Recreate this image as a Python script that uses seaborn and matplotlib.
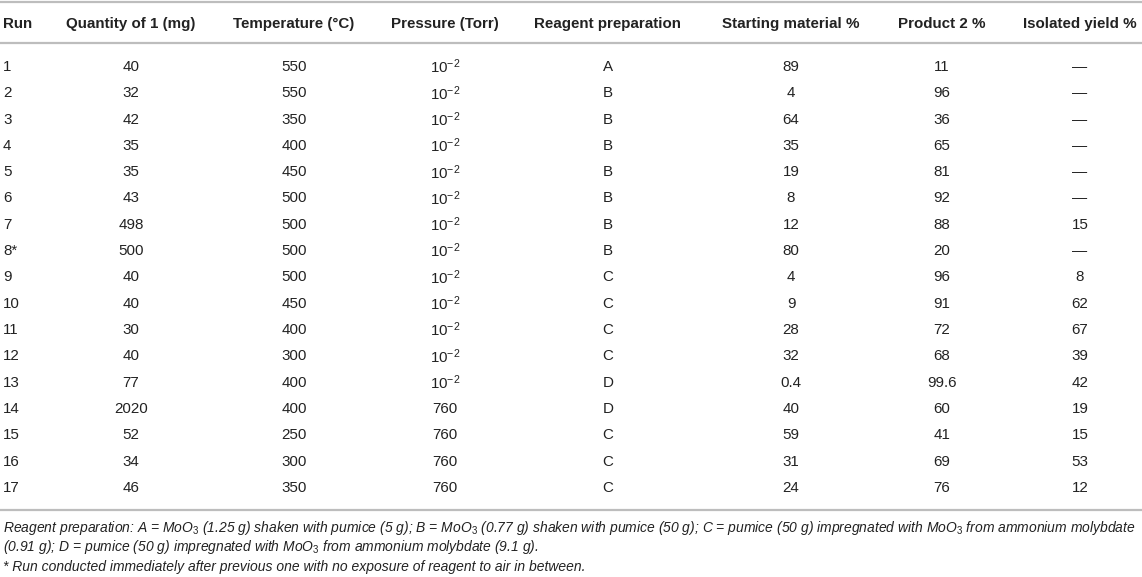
import pandas as pd
import matplotlib.pyplot as plt
import seaborn as sns

# Données du tableau
runs = ['1', '2', '3', '4', '5', '6', '7', '8*', '9', '10', '11', '12', '13', '14', '15', '16', '17']
quantity = ['40', '32', '42', '35', '35', '43', '498', '500', '40', '40', '30', '40', '77', '2020', '52', '34', '46']
temperature = ['550', '550', '350', '400', '450', '500', '500', '500', '500', '450', '400', '300', '400', '400', '250', '300', '350']
pressure = ['10^-2'] * 13 + ['760'] * 4
reagent = ['A', 'B', 'B', 'B', 'B', 'B', 'B', 'B', 'C', 'C', 'C', 'C', 'D', 'D', 'C', 'C', 'C']
starting = ['89', '4', '64', '35', '19', '8', '12', '80', '4', '9', '28', '32', '0.4', '40', '59', '31', '24']
product = ['11', '96', '36', '65', '81', '92', '88', '20', '96', '91', '72', '68', '99.6', '60', '41', '69', '76']
isolated = ['—', '—', '—', '—', '—', '—', '15', '—', '8', '62', '67', '39', '42', '19', '15', '53', '12']

headers = ['Run', 'Quantity of 1 (mg)', 'Temperature (°C)', 'Pressure (Torr)',
           'Reagent preparation', 'Starting material %', 'Product 2 %', 'Isolated yield %']

footnotes = [
    'Reagent preparation: A = MoO$_3$ (1.25 g) shaken with pumice (5 g); B = MoO$_3$ (0.77 g) shaken with pumice (50 g); '
    'C = pumice (50 g) impregnated with MoO$_3$ from ammonium molybdate',
    '(0.91 g); D = pumice (50 g) impregnated with MoO$_3$ from ammonium molybdate (9.1 g).',
    '* Run conducted immediately after previous one with no exposure of reagent to air in between.',
]

df = pd.DataFrame({
    headers[0]: runs, headers[1]: quantity, headers[2]: temperature, headers[3]: pressure,
    headers[4]: reagent, headers[5]: starting, headers[6]: product, headers[7]: isolated,
})

sns.set_theme(style='white')
plt.rcParams['font.family'] = ['Liberation Sans', 'DejaVu Sans']
plt.rcParams['mathtext.fontset'] = 'custom'
plt.rcParams['mathtext.rm'] = 'Liberation Sans'
plt.rcParams['mathtext.it'] = 'Liberation Sans:italic'
plt.rcParams['mathtext.bf'] = 'Liberation Sans:bold'

fig = plt.figure(figsize=(11.42, 5.77), dpi=100)
ax = fig.add_axes([0, 0, 1, 1])
ax.set_xlim(0, 1142)
ax.set_ylim(577, 0)
ax.axis('off')

# position des colonnes (centre), la première est alignée à gauche
col_x = [3, 131, 294, 445, 608, 791, 942, 1080]
text_color = '#222222'
rule_color = '#bdbdbd'

for x, h in zip(col_x, headers):
    ax.text(x, 24, h, ha='left' if x == col_x[0] else 'center', va='center',
            fontsize=10.9, fontweight='bold', color=text_color)

row_y0, row_dy = 67, 26.3
for i, row in df.iterrows():
    y = row_y0 + i * row_dy
    for j, (x, val) in enumerate(zip(col_x, row.values)):
        if val == '10^-2':
            val = r'$\mathregular{10^{-2}}$'
        ax.text(x, y, val, ha='left' if j == 0 else 'center', va='center',
                fontsize=10.9, color=text_color)

for y in [2, 43, 510]:
    ax.axhline(y, color=rule_color, linewidth=1.6)

for k, line in enumerate(footnotes):
    ax.text(3, 528 + k * 19.5, line, ha='left', va='center', fontsize=10,
            style='italic', color=text_color)

fig.savefig('out.png', dpi=100)
